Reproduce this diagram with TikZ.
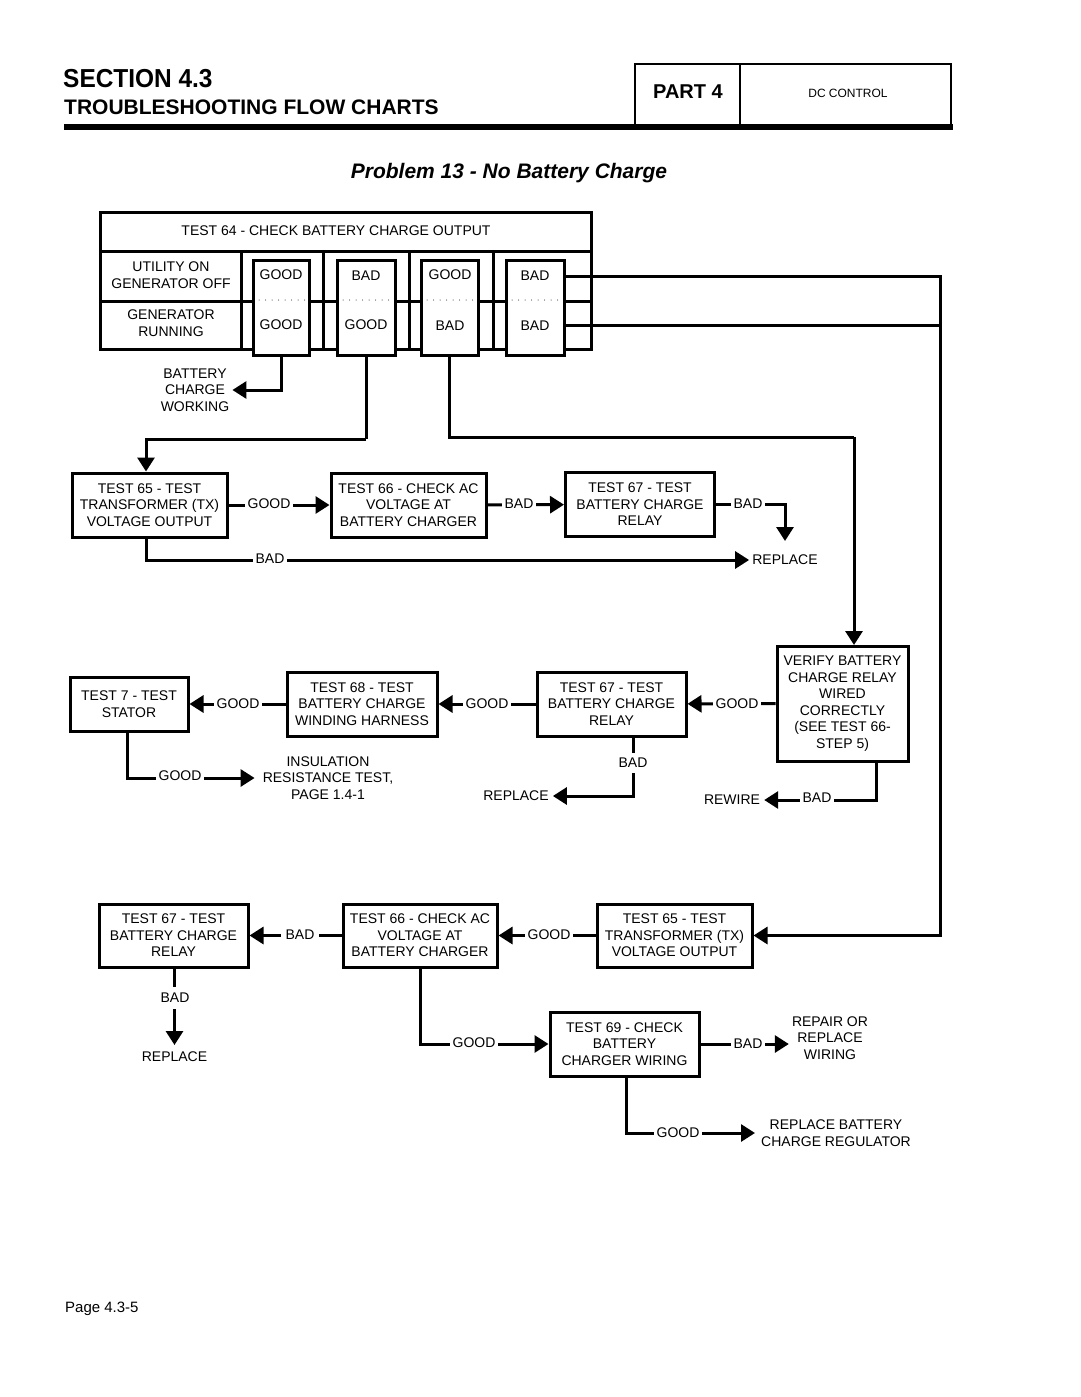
\documentclass[tikz,border=0pt]{standalone}
\usepackage{fontspec}
\setmainfont{Liberation Sans}
\usetikzlibrary{arrows.meta}
\begin{document}
\begin{tikzpicture}[x=1pt,y=-1pt,
  every node/.style={font=\fontsize{14}{16.5}\selectfont, inner sep=0pt},
  box/.style={draw, line width=3pt, fill=white, align=center},
  lbl/.style={fill=white, inner xsep=3pt, inner ysep=1pt},
  tgt/.style={align=center, inner sep=3pt},
  conn/.style={line width=3pt},
  arr/.style={line width=3pt, -{Triangle[length=14pt,width=17pt]}},
  dots/.style={line width=1pt, line cap=round, dash pattern=on 0pt off 6.5pt}
]
\useasboundingbox (0,0) rectangle (1080,1397);

% ---------- header ----------
\node[anchor=west, font=\fontsize{26}{26}\bfseries\selectfont] (sec) at (63,78.5) {\scalebox{0.94}[1]{SECTION 4.3}};
\node[anchor=west, font=\fontsize{21}{21}\bfseries\selectfont] (tfc) at (64,107.5) {TROUBLESHOOTING FLOW CHARTS};
\draw[line width=2pt] (635,64) rectangle (951,126);
\draw[line width=2pt] (740,64) -- (740,126);
\fill (64,123.5) rectangle (953,130);
\node[font=\fontsize{20}{20}\bfseries\selectfont] (part) at (688,92) {PART 4};
\node[font=\fontsize{12}{12}\selectfont] (dcc) at (848,93) {DC CONTROL};
\node[font=\fontsize{21}{21}\bfseries\itshape\selectfont] (prob) at (509,173) {Problem 13 - No Battery Charge};
\node[anchor=west, font=\fontsize{15}{15}\selectfont] (page) at (65,1309) {Page 4.3-5};

% ---------- top table ----------
\draw[conn] (100,212) rectangle (591,349);
\draw[conn] (100,251) -- (591,251);
\draw[conn] (100,301) -- (591,301);
\draw[conn] (241,251) -- (241,349);
\draw[conn] (323,251) -- (323,349);
\draw[conn] (409,251) -- (409,349);
\draw[conn] (493,251) -- (493,349);
\node (t64) at (336,231) {TEST 64 - CHECK BATTERY CHARGE OUTPUT};
\node[align=center] (uon) at (171,275) {UTILITY ON\\GENERATOR OFF};
\node[align=center] (grun) at (171,323) {GENERATOR\\RUNNING};

\node[box, minimum width=56pt, minimum height=95pt] (g1) at (281,307.5) {};
\node[box, minimum width=58pt, minimum height=95pt] (g2) at (366,307.5) {};
\node[box, minimum width=57pt, minimum height=95pt] (g3) at (449.5,307.5) {};
\node[box, minimum width=58pt, minimum height=95pt] (g4) at (535,307.5) {};
\draw[dots] (259,300) -- (305,300);
\draw[dots] (343,300) -- (391,300);
\draw[dots] (427,300) -- (474,300);
\draw[dots] (512,300) -- (560,300);
\node (g1a) at (281,275) {GOOD};
\node (g1b) at (281,325) {GOOD};
\node (g2a) at (366,276) {BAD};
\node (g2b) at (366,325) {GOOD};
\node (g3a) at (450,275) {GOOD};
\node (g3b) at (450,326) {BAD};
\node (g4a) at (535,276) {BAD};
\node (g4b) at (535,326) {BAD};

\node[tgt, align=center] (bcw) at (195,390) {BATTERY\\CHARGE\\WORKING};
\draw[arr] (g1.south) |- (bcw.east);

% ---------- row 2 ----------
\node[box, minimum width=155pt, minimum height=64pt] (t65a) at (149.5,505) {TEST 65 - TEST\\TRANSFORMER (TX)\\VOLTAGE OUTPUT};
\node[box, minimum width=155pt, minimum height=64pt] (t66a) at (408.5,505) {TEST 66 - CHECK AC\\VOLTAGE AT\\BATTERY CHARGER};
\node[box, minimum width=149pt, minimum height=64pt] (t67a) at (640,504.5) {TEST 67 - TEST\\BATTERY CHARGE\\RELAY};
\node[tgt] (rep1) at (785,560) {REPLACE};
\coordinate (k1) at (366,439);
\coordinate (k2) at (854,437);
\coordinate (k5) at (785,541);

\draw[conn] (g2.south) -- (k1);
\draw[arr] (k1) -| ([xshift=-3.5pt]t65a.north);
\draw[conn] (g3.south) |- (k2);
\coordinate (k3) at (854,645);
\draw[arr] (k2) -- (k3);

\draw[arr] (t65a) -- (t66a);
\node[lbl] (l1) at (269,504) {GOOD};
\draw[arr] (t66a) -- (t67a);
\node[lbl] (l2) at (519,504) {BAD};
\draw[arr] (t67a.east) -| (k5);
\node[lbl] (l3) at (748,504) {BAD};
\draw[arr] ([xshift=-3.5pt]t65a.south) |- (rep1.west);
\node[lbl] (l4) at (270,559) {BAD};

% ---------- row 3 ----------
\node[box, minimum width=118pt, minimum height=54pt] (t7) at (129,704) {TEST 7 - TEST\\STATOR};
\node[box, minimum width=150pt, minimum height=64pt] (t68) at (362,704) {TEST 68 - TEST\\BATTERY CHARGE\\WINDING HARNESS};
\node[box, minimum width=149pt, minimum height=64pt] (t67b) at (611.5,704) {TEST 67 - TEST\\BATTERY CHARGE\\RELAY};
\node[box, minimum width=131pt, minimum height=115pt] (ver) at (842.5,703.5) {VERIFY BATTERY\\CHARGE RELAY\\WIRED\\CORRECTLY\\(SEE TEST 66-\\STEP 5)};
\node[tgt, align=center, inner xsep=8pt] (ins) at (328,778) {INSULATION\\RESISTANCE TEST,\\PAGE 1.4-1};
\node[tgt, inner xsep=4pt] (rep2) at (516,796) {REPLACE};
\node[tgt, inner xsep=4pt] (rew) at (732,800) {REWIRE};

\draw[arr] (ver) -- (t67b);
\node[lbl] (l5) at (737,704) {GOOD};
\draw[arr] (t67b) -- (t68);
\node[lbl] (l6) at (487,704) {GOOD};
\draw[arr] (t68) -- (t7);
\node[lbl] (l7) at (238,704) {GOOD};
\draw[arr] ([xshift=-2pt]t7.south) |- (ins.west);
\node[lbl] (l8) at (180,776) {GOOD};
\draw[arr] ([xshift=21.5pt]t67b.south) |- (rep2.east);
\node[lbl, inner ysep=5pt] (l9) at (633,763) {BAD};
\draw[arr] ([xshift=33.5pt]ver.south) |- (rew.east);
\node[lbl] (l10) at (817,798) {BAD};

% ---------- row 4 ----------
\node[box, minimum width=149pt, minimum height=63pt] (t67c) at (173.5,935.5) {TEST 67 - TEST\\BATTERY CHARGE\\RELAY};
\node[box, minimum width=154pt, minimum height=63pt] (t66c) at (420,935.5) {TEST 66 - CHECK AC\\VOLTAGE AT\\BATTERY CHARGER};
\node[box, minimum width=155pt, minimum height=63pt] (t65c) at (674.5,935.5) {TEST 65 - TEST\\TRANSFORMER (TX)\\VOLTAGE OUTPUT};
\node[box, minimum width=149pt, minimum height=64pt] (t69) at (624.5,1044) {TEST 69 - CHECK\\BATTERY\\CHARGER WIRING};
\node[tgt] (rep4) at (174.5,1057) {REPLACE};
\node[tgt, align=center] (repw) at (830,1038) {REPAIR OR\\REPLACE\\WIRING};
\node[tgt, align=center, inner xsep=6pt] (rbr) at (836,1133) {REPLACE BATTERY\\CHARGE REGULATOR};
\coordinate (k4) at (940,935.5);
\coordinate (k6) at (174.5,1045);

\draw[arr] ([yshift=31pt]g4.east) -| (k4) -- (t65c.east);
\draw[conn] ([yshift=-18pt]g4.east) -- ([yshift=-18pt]g4.east -| k4);

\draw[arr] (t65c) -- (t66c);
\node[lbl] (l11) at (549,935) {GOOD};
\draw[arr] (t66c) -- (t67c);
\node[lbl, inner xsep=5pt] (l12) at (300,935) {BAD};
\draw[arr] ([xshift=1pt]t67c.south) -- (k6);
\node[lbl, inner ysep=6pt] (l13) at (175,998) {BAD};
\draw[arr] (t66c.south) |- (t69.west);
\node[lbl] (l14) at (474,1043) {GOOD};
\draw[arr] (t69.east) -- (t69.east -| repw.west);
\node[lbl] (l15) at (748,1044) {BAD};
\draw[arr] ([xshift=1.5pt]t69.south) |- (rbr.west);
\node[lbl] (l16) at (678,1133) {GOOD};
\end{tikzpicture}
\end{document}
